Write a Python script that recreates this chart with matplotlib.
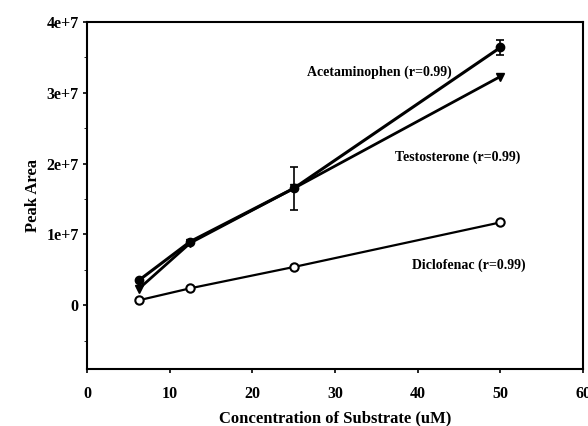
import numpy as np
import matplotlib.pyplot as plt
from matplotlib.ticker import MultipleLocator

plt.rcParams['font.family'] = ['Liberation Serif', 'DejaVu Serif']
plt.rcParams['font.weight'] = 'bold'

conc = [6.25, 12.5, 25, 50]
acet = [3.5e6, 9.0e6, 1.65e7, 3.64e7]
acet_err = [0, 0, 3.0e6, 1.0e6]
testo = [2.3e6, 8.8e6, 1.65e7, 3.23e7]
diclo = [0.7e6, 2.4e6, 5.4e6, 1.17e7]

yticks = [0, 1e7, 2e7, 3e7, 4e7]
ylabels = ['0', '1e+7', '2e+7', '3e+7', '4e+7']

fig = plt.figure(figsize=(5.88, 4.26), dpi=100)
ax = fig.add_axes([87/588, 1 - 369/426, (583-87)/588, (369-22)/426])

ax.errorbar(conc, acet, yerr=acet_err, color='black', lw=2.2, marker='o', ms=6,
            mfc='black', mec='black', capsize=3, elinewidth=1.2, capthick=1.2, zorder=3)
ax.plot(conc, testo, color='black', lw=2.0, marker='v', ms=6, mfc='black', mec='black', zorder=3)
ax.plot(conc, diclo, color='black', lw=1.6, marker='o', ms=6, mfc='white', mec='black',
        mew=1.5, zorder=4)

ax.text(26.6, 3.29e7, 'Acetaminophen (r=0.99)', fontsize=10, fontweight='bold', va='center')
ax.text(37.2, 2.09e7, 'Testosterone (r=0.99)', fontsize=10, fontweight='bold', va='center')
ax.text(39.3, 0.56e7, 'Diclofenac (r=0.99)', fontsize=10, fontweight='bold', va='center')

ax.set_xlim(0, 60)
ax.set_ylim(-0.9e7, 4e7)
ax.set_xticks([0, 10, 20, 30, 40, 50, 60])
ax.set_yticks(yticks)
ax.set_yticklabels(ylabels)
ax.yaxis.set_minor_locator(MultipleLocator(5e6))
ax.tick_params(labelsize=11.5, width=1.2, length=3)
ax.tick_params(axis='x', pad=9)
ax.tick_params(axis='y', pad=3)
ax.tick_params(which='minor', length=2)
for s in ax.spines.values():
    s.set_linewidth(1.5)

ax.set_xlabel('Concentration of Substrate (uM)', fontsize=12, fontweight='bold', labelpad=6)
ax.set_ylabel('Peak Area', fontsize=12, fontweight='bold', labelpad=4)

fig.savefig('out.png', dpi=100)
